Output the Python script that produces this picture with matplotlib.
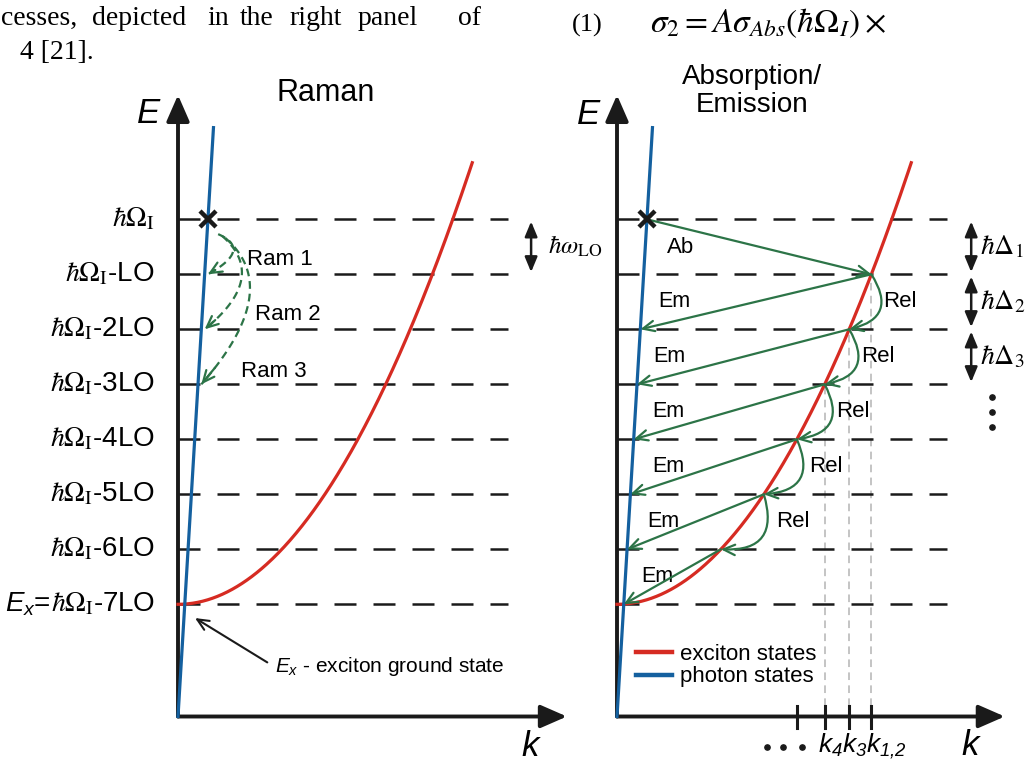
import numpy as np
import matplotlib.pyplot as plt
from matplotlib.patches import FancyArrowPatch

plt.rcParams['font.family'] = ['Liberation Sans', 'DejaVu Sans']
plt.rcParams['mathtext.fontset'] = 'stix'
# used by the texts drawn with math_fontfamily='custom' (italic sans labels)
plt.rcParams['mathtext.rm'] = 'Liberation Sans:italic'
plt.rcParams['mathtext.it'] = 'Liberation Sans:italic'
plt.rcParams['mathtext.bf'] = 'Liberation Sans:bold'

BLACK = '#1a1a1a'
RED = '#d62b22'
BLUE = '#14609f'
GREEN = '#2c7447'
GREY = '#b4b4b4'

# energies in units of the LO phonon energy, k in the same drawing units
E_X = 2.04            # exciton ground state
N_LO = 7              # LO steps from hbar*Omega_I down to E_X
INV_2M = 0.2805       # exciton curvature hbar^2/2M
C_PHOTON = 16.6       # slope of the photon line
K_EXC_MAX = 5.35
K_PH_MAX = 0.645
LEVEL_K_END = 6.0

steps = np.arange(N_LO + 1)          # 0 = hbar*Omega_I ... 7 = E_X
levels = E_X + N_LO - steps
level_tags = ['', '-LO', '-2LO', '-3LO', '-4LO', '-5LO', '-6LO', '-7LO']

k_exc_at = np.sqrt((levels - E_X) / INV_2M)   # exciton state on each level
k_ph_at = levels / C_PHOTON                   # photon state on each level

ram_names = ['Ram 1', 'Ram 2', 'Ram 3']
ram_start = [(0.73, 8.77), (0.80, 8.74), (0.86, 8.70)]
ram_bulge = [(1.00, 8.45), (1.15, 7.94), (1.29, 7.57)]
ram_text = [(1.85, 8.31), (2.00, 7.31), (1.75, 6.27)]

em_text_k = [1.05, 0.96, 0.93, 0.93, 0.84, 0.73]
delta_names = [r'$\hbar\Delta_1$', r'$\hbar\Delta_2$', r'$\hbar\Delta_3$']
k_tick_steps = [1, 2, 3, 4]
k_guide_steps = [1, 2, 3]

W, H = 1029, 767
SCALE = 55.0   # pixels per drawing unit
fig = plt.figure(figsize=(W / 100, H / 100), dpi=100)
fig.patch.set_facecolor('white')


def add_panel(ox, oy):
    x0, x1, y0, y1 = -0.5, 7.5, -0.5, 11.5
    ax = fig.add_axes([(ox + x0 * SCALE) / W, 1 - (oy - y0 * SCALE) / H,
                       (x1 - x0) * SCALE / W, (y1 - y0) * SCALE / H])
    ax.set_xlim(x0, x1)
    ax.set_ylim(y0, y1)
    ax.axis('off')
    return ax


def arrow(ax, a, b, style='->,head_length=0.55,head_width=0.25', color=GREEN,
          lw=1.6, conn='arc3', ms=15, z=6):
    p = FancyArrowPatch(a, b, arrowstyle=style, connectionstyle=conn, color=color,
                        lw=lw, mutation_scale=ms, shrinkA=0, shrinkB=0, zorder=z,
                        clip_on=False)
    ax.add_patch(p)
    return p


def draw_common(ax, x_end):
    for E in levels:
        ax.plot([0, LEVEL_K_END], [E, E], color=BLACK, lw=1.8, dashes=(8.8, 6.8),
                zorder=1, clip_on=False)
    axis_style = '-|>,head_length=0.8,head_width=0.35'
    arrow(ax, (0, 0), (0, 11.3), style=axis_style, color=BLACK, lw=2.8, ms=20, z=2)
    arrow(ax, (0, 0), (x_end, 0), style=axis_style, color=BLACK, lw=2.8, ms=20, z=2)
    k = np.linspace(0, K_EXC_MAX, 300)
    red, = ax.plot(k, E_X + INV_2M * k ** 2, color=RED, lw=2.3, zorder=3)
    kp = np.array([0, K_PH_MAX])
    blue, = ax.plot(kp, C_PHOTON * kp, color=BLUE, lw=2.3, zorder=4)
    ax.plot(k_ph_at[0], levels[0], marker='x', ms=11, mew=3.2, color=BLACK, zorder=7)
    return red, blue


# ---------------- Raman panel ----------------
axL = add_panel(178, 716.5)
draw_common(axL, 7.07)

for i in range(N_LO):
    axL.text(-0.42, levels[i], r'$\hbar\Omega_{\rm I}$' + level_tags[i],
             ha='right', va='center', fontsize=20)
last = axL.text(-0.42, levels[-1], r'$\hbar\Omega_{\rm I}$' + level_tags[-1],
                ha='right', va='center', fontsize=20)
axL.annotate(r'$E_{x}$=', xy=(0, 0.5), xycoords=last, ha='right', va='center',
             fontsize=20, math_fontfamily='custom')

# Raman scattering paths
for p0, b, pos, name, s in zip(ram_start, ram_bulge, ram_text, ram_names, [1, 2, 3]):
    p0 = np.array(p0)
    b = np.array(b)
    p2 = np.array([k_ph_at[s] + 0.06, levels[s]])
    c = 2 * b - 0.5 * (p0 + p2)
    t = np.linspace(0, 1, 80)[:, None]
    curve = (1 - t) ** 2 * p0 + 2 * (1 - t) * t * c + t ** 2 * p2
    axL.plot(curve[:, 0], curve[:, 1], color=GREEN, lw=1.6, dashes=(3.5, 2.2), zorder=6)
    arrow(axL, tuple(curve[-8]), tuple(p2))
    axL.text(pos[0], pos[1], name, ha='center', va='center', fontsize=16)

arrow(axL, (6.42, levels[0] - 0.04), (6.42, levels[1] + 0.04),
      style='<|-|>,head_length=0.6,head_width=0.25', color=BLACK, lw=1.8)
axL.text(6.73, (levels[0] + levels[1]) / 2, r'$\hbar\omega_{\rm LO}$', fontsize=18,
         va='center')

axL.annotate(r'$E_{x}$ - exciton ground state', xy=(0.31, 1.79), xytext=(1.76, 0.9),
             ha='left', va='center', fontsize=15, math_fontfamily='custom',
             arrowprops=dict(arrowstyle='->,head_length=0.55,head_width=0.25',
                             color=BLACK, lw=1.5, relpos=(0, 0.5), shrinkA=4,
                             shrinkB=0, mutation_scale=15))

axL.text(-0.53, 10.97, 'E', style='italic', fontsize=25, ha='center', va='center')
axL.text(6.4, -0.55, 'k', style='italic', fontsize=25, ha='center', va='center')

# ---------------- Absorption / emission panel ----------------
axR = add_panel(617, 716.5)
red, blue = draw_common(axR, 7.05)

for s in k_guide_steps:
    axR.plot([k_exc_at[s]] * 2, [0.2, levels[s]], color=GREY, lw=1.1, dashes=(5, 3.5),
             zorder=0)
for s in k_tick_steps:
    axR.plot([k_exc_at[s]] * 2, [-0.2, 0.2], color=BLACK, lw=2.2, zorder=2)

arrow(axR, (k_ph_at[0], levels[0]), (k_exc_at[1], levels[1]))
axR.text(1.15, 8.53, 'Ab', fontsize=16, ha='center', va='center')

for s in range(1, N_LO):
    arrow(axR, (k_exc_at[s], levels[s]), (k_ph_at[s + 1], levels[s + 1]))
    axR.text(em_text_k[s - 1], (levels[s] + levels[s + 1]) / 2, 'Em', fontsize=15.5,
             ha='center', va='center')

for s in range(1, N_LO - 1):
    arrow(axR, (k_exc_at[s], levels[s]), (k_exc_at[s + 1], levels[s + 1]),
          conn='arc3,rad=-0.7')
    axR.text(k_exc_at[s] + 0.52, (levels[s] + levels[s + 1]) / 2, 'Rel', fontsize=16,
             ha='center', va='center')

for j, name in enumerate(delta_names):
    arrow(axR, (6.44, levels[j] - 0.04), (6.44, levels[j + 1] + 0.04),
          style='<|-|>,head_length=0.6,head_width=0.25', color=BLACK, lw=1.8)
    axR.text(6.6, (levels[j] + levels[j + 1]) / 2, name, fontsize=20, va='center')
axR.plot([6.82] * 3, levels[3] - np.array([0.23, 0.5, 0.78]), 'o', ms=3.8, color=BLACK,
         clip_on=False)

axR.plot([2.73, 3.02, 3.36], [-0.55] * 3, 'o', ms=3.8, color=BLACK, clip_on=False)
axR.text(3.65, -0.55, r'$k_4k_3k_{1{,}2}$', fontsize=19, math_fontfamily='custom',
         va='center')

axR.text(-0.51, 10.94, 'E', style='italic', fontsize=25, ha='center', va='center')
axR.text(6.42, -0.52, 'k', style='italic', fontsize=25, ha='center', va='center')

leg = axR.legend([red, blue], ['exciton states', 'photon states'], loc='lower left',
                 bbox_to_anchor=(0.35, 0.53), bbox_transform=axR.transData,
                 frameon=False, fontsize=16, handlelength=1.6, handletextpad=0.35,
                 labelspacing=0.05, borderpad=0, borderaxespad=0)
for ln in leg.get_lines():
    ln.set_linewidth(3.2)

# ---------------- titles and surrounding text ----------------
fig.text(326 / W, 1 - 93 / H, 'Raman', fontsize=22, ha='center', va='center')
fig.text(752 / W, 1 - 91 / H, 'Absorption/\nEmission', fontsize=20, ha='center',
         va='center', linespacing=1.05)

serif = ['Liberation Serif', 'DejaVu Serif']
words = ['cesses,', 'depicted', 'in', 'the', 'right', 'panel', 'of']
word_x = [1, 92, 207, 240, 289, 358, 458]
for w, x in zip(words, word_x):
    fig.text(x / W, 1 - 25 / H, w, family=serif, fontsize=20, va='baseline')
fig.text(20 / W, 1 - 59 / H, '4 [21].', family=serif, fontsize=20, va='baseline')
fig.text(572 / W, 1 - 32 / H, '(1)', family=serif, fontsize=19, va='baseline')
fig.text(650 / W, 1 - 32 / H, r'$\sigma_2 = A\sigma_{Abs}\left(\hbar\Omega_I\right)\times$',
         fontsize=24, va='baseline')

fig.savefig('out.png', dpi=100, facecolor='white')
